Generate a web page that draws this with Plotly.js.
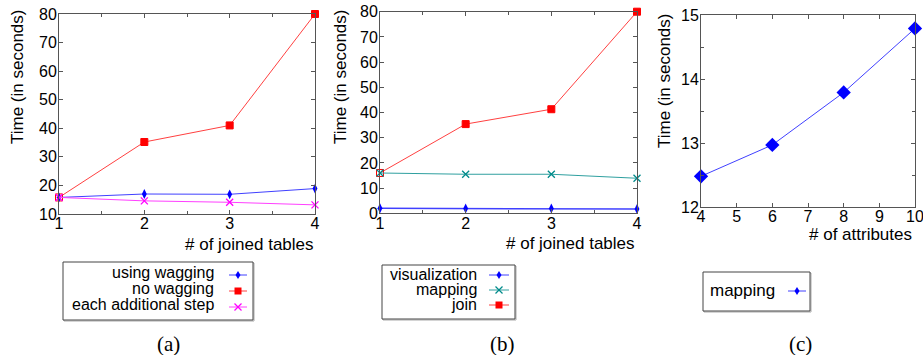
<!DOCTYPE html>
<html>
<head>
<meta charset="utf-8">
<script src="https://cdn.plot.ly/plotly-3.0.1.min.js"></script>
<style>html,body{margin:0;padding:0;background:#fff;}#chart{width:923px;height:355px;}</style>
</head>
<body>
<div id="chart"></div>
<script>
// ---- data ----
const joinedTables = [1, 2, 3, 4];
const usingWagging = [15.8, 17.0, 16.9, 18.9];
const noWagging = [15.8, 35.2, 41.0, 80.0];
const eachAdditionalStep = [15.8, 14.6, 14.1, 13.2];

const visualization = [2.0, 1.9, 1.9, 1.7];
const mappingB = [16.0, 15.5, 15.5, 13.9];
const joinB = [16.0, 35.4, 41.3, 80.0];

const attributes = [4, 6, 8, 10];
const mappingC = [12.48, 12.97, 13.79, 14.79];

const legendA = ["using wagging", "no wagging", "each additional step"];
const legendB = ["visualization", "mapping", "join"];
const legendC = ["mapping"];

// ---- helpers ----
const W = 923, H = 355;
const fx = x => x / W;
const fy = y => 1 - y / H;
const SANS = "Liberation Sans, Arial, sans-serif";
const SERIF = "Liberation Serif, Times New Roman, serif";
const AX = '#555';
const TICKSIZE = 16;

function xAxis(l, r, range, dtick, minor, anchor) {
  const a = {
    domain: [fx(l), fx(r)], range: range, anchor: anchor,
    tick0: range[0], dtick: dtick, ticks: 'inside', ticklen: 4, tickcolor: AX,
    mirror: 'ticks', showline: true, linecolor: AX, linewidth: 1,
    showgrid: false, zeroline: false, fixedrange: true,
    ticklabelstandoff: -5, ticklabeloverflow: 'allow',
    tickfont: {family: SANS, size: TICKSIZE, color: '#000'}
  };
  if (minor) a.minor = {dtick: minor, ticks: 'inside', ticklen: 3, tickcolor: AX, showgrid: false};
  return a;
}
function yAxis(t, b, range, dtick, anchor) {
  return {
    domain: [fy(b), fy(t)], range: range, anchor: anchor,
    tick0: range[0], dtick: dtick, ticks: 'inside', ticklen: 4, tickcolor: AX,
    mirror: 'ticks', showline: true, linecolor: AX, linewidth: 1,
    showgrid: false, zeroline: false, fixedrange: true,
    ticklabelstandoff: -2, ticklabeloverflow: 'allow',
    tickfont: {family: SANS, size: TICKSIZE, color: '#000'}
  };
}

const colors = {
  blue: '#0000ff', blueLine: '#4040ff',
  red: '#ff0000', redLine: '#ff4040',
  mag: '#ff00ff', magLine: '#ff40ff',
  teal: '#008b8b', tealLine: '#30a0a0'
};

const traces = [
  {x: joinedTables, y: noWagging, xaxis: 'x', yaxis: 'y', mode: 'lines+markers', cliponaxis: false,
   line: {color: colors.redLine, width: 1},
   marker: {symbol: ['square-open', 'square', 'square', 'square'], size: 7, color: colors.red, line: {color: colors.red, width: 1}}},
  {x: joinedTables, y: usingWagging, xaxis: 'x', yaxis: 'y', mode: 'lines+markers', cliponaxis: false,
   line: {color: colors.blueLine, width: 1},
   marker: {symbol: 'diamond-tall', size: 7, color: colors.blue}},
  {x: joinedTables, y: eachAdditionalStep, xaxis: 'x', yaxis: 'y', mode: 'lines+markers', cliponaxis: false,
   line: {color: colors.magLine, width: 1},
   marker: {symbol: 'x-thin-open', size: 7, color: colors.mag, line: {color: colors.mag, width: 1.3}}},

  {x: joinedTables, y: joinB, xaxis: 'x2', yaxis: 'y2', mode: 'lines+markers', cliponaxis: false,
   line: {color: colors.redLine, width: 1},
   marker: {symbol: ['square-open', 'square', 'square', 'square'], size: 7, color: colors.red, line: {color: colors.red, width: 1}}},
  {x: joinedTables, y: mappingB, xaxis: 'x2', yaxis: 'y2', mode: 'lines+markers', cliponaxis: false,
   line: {color: colors.tealLine, width: 1.2},
   marker: {symbol: 'x-thin-open', size: 7, color: colors.teal, line: {color: colors.teal, width: 1.3}}},
  {x: joinedTables, y: visualization, xaxis: 'x2', yaxis: 'y2', mode: 'lines+markers', cliponaxis: false,
   line: {color: colors.blueLine, width: 1.5},
   marker: {symbol: 'diamond-tall', size: 7, color: colors.blue}},

  {x: attributes, y: mappingC, xaxis: 'x3', yaxis: 'y3', mode: 'lines+markers', cliponaxis: false,
   line: {color: colors.blueLine, width: 1},
   marker: {symbol: 'diamond', size: 11, color: colors.blue}}
];

const annotations = [];
const shapes = [];
function text(t, x, y, opts) {
  annotations.push(Object.assign({
    text: t, x: fx(x), y: fy(y), xref: 'paper', yref: 'paper', showarrow: false,
    xanchor: 'center', yanchor: 'middle',
    font: {family: SANS, size: 16, color: '#000'}
  }, opts || {}));
}
// axis titles
text('# of joined tables', 316, 244, {xanchor: 'right', font: {family: SANS, size: 17, color: '#000'}});
text('# of joined tables', 637, 243, {xanchor: 'right', font: {family: SANS, size: 17, color: '#000'}});
text('# of attributes', 914, 234, {xanchor: 'right', font: {family: SANS, size: 17, color: '#000'}});
text('Time (in seconds)', 18, 77, {textangle: -90, font: {family: SANS, size: 17, color: '#000'}});
text('Time (in seconds)', 341, 77, {textangle: -90, font: {family: SANS, size: 17, color: '#000'}});
text('Time (in seconds)', 664, 81, {textangle: -90, font: {family: SANS, size: 17, color: '#000'}});
// captions
text('(a)', 168, 344, {font: {family: SERIF, size: 21, color: '#000'}});
text('(b)', 502, 344, {font: {family: SERIF, size: 21, color: '#000'}});
text('(c)', 800, 344, {font: {family: SERIF, size: 21, color: '#000'}});

function box(l, t, r, b) {
  shapes.push({type: 'rect', xref: 'paper', yref: 'paper', x0: fx(l + 1), x1: fx(r + 1), y0: fy(b + 1), y1: fy(t + 1),
    line: {color: '#aaa', width: 1}, fillcolor: 'rgba(0,0,0,0)'});
  shapes.push({type: 'rect', xref: 'paper', yref: 'paper', x0: fx(l), x1: fx(r), y0: fy(b), y1: fy(t),
    line: {color: '#444', width: 1}, fillcolor: '#fff'});
}
function seg(x0, y0, x1, y1, color, w) {
  shapes.push({type: 'line', xref: 'paper', yref: 'paper', x0: fx(x0), x1: fx(x1), y0: fy(y0), y1: fy(y1),
    line: {color: color, width: w || 1}});
}
function glyph(cx, cy, half, lineColor, color, sym) {
  seg(cx - half, cy, cx + half, cy, lineColor, 1);
  if (sym === 'square') {
    shapes.push({type: 'rect', xref: 'paper', yref: 'paper', x0: fx(cx - 3.5), x1: fx(cx + 3.5), y0: fy(cy + 3.5), y1: fy(cy - 3.5),
      line: {color: color, width: 0}, fillcolor: color});
  } else if (sym === 'diamond') {
    const p = 'M' + fx(cx) + ',' + fy(cy - 4) + ' L' + fx(cx + 2.5) + ',' + fy(cy) + ' L' + fx(cx) + ',' + fy(cy + 4) + ' L' + fx(cx - 2.5) + ',' + fy(cy) + ' Z';
    shapes.push({type: 'path', xref: 'paper', yref: 'paper', path: p, line: {color: color, width: 0}, fillcolor: color});
  } else if (sym === 'x') {
    seg(cx - 3.5, cy - 3.5, cx + 3.5, cy + 3.5, color, 1.3);
    seg(cx - 3.5, cy + 3.5, cx + 3.5, cy - 3.5, color, 1.3);
  }
}

const LEGFONT = {family: SANS, size: 16, color: '#000'};
// legend (a)
box(63, 262, 253, 320);
const rowsA = [272, 288, 304];
const symsA = [['diamond', colors.blue, colors.blueLine], ['square', colors.red, colors.redLine], ['x', colors.mag, colors.magLine]];
legendA.forEach((s, i) => {
  text(s, 216, rowsA[i], {xanchor: 'right', font: LEGFONT});
  glyph(238, rowsA[i] + 3, 9, symsA[i][2], symsA[i][1], symsA[i][0]);
});
// legend (b)
box(382, 265, 515, 319);
const rowsB = [275, 290, 305];
const symsB = [['diamond', colors.blue, colors.blueLine], ['x', colors.teal, colors.tealLine], ['square', colors.red, colors.redLine]];
legendB.forEach((s, i) => {
  text(s, 479, rowsB[i] - 1, {xanchor: 'right', font: LEGFONT});
  glyph(499, rowsB[i], 10, symsB[i][2], symsB[i][1], symsB[i][0]);
});
// legend (c)
box(703, 272, 810, 311);
text(legendC[0], 777, 290, {xanchor: 'right', font: {family: SANS, size: 17, color: '#000'}});
glyph(797, 291, 9, colors.blueLine, colors.blue, 'diamond');

const layout = {
  width: W, height: H, margin: {l: 0, r: 0, t: 0, b: 0},
  paper_bgcolor: '#fff', plot_bgcolor: '#fff', showlegend: false,
  font: {family: SANS, size: 14, color: '#000'},
  xaxis: xAxis(59, 315, [1, 4], 1, 0.5, 'y'),
  yaxis: yAxis(14, 214, [10, 80], 10, 'x'),
  xaxis2: xAxis(380, 637, [1, 4], 1, 0.5, 'y2'),
  yaxis2: yAxis(11.7, 213.3, [0, 80], 10, 'x2'),
  xaxis3: xAxis(701, 915, [4, 10], 1, null, 'y3'),
  yaxis3: yAxis(15, 207, [12, 15], 1, 'x3'),
  annotations: annotations, shapes: shapes
};
layout.yaxis3.minor = {dtick: 0.5, ticks: 'inside', ticklen: 3, tickcolor: AX, showgrid: false};

Plotly.newPlot('chart', traces, layout, {staticPlot: true, displayModeBar: false});
</script>
</body>
</html>
